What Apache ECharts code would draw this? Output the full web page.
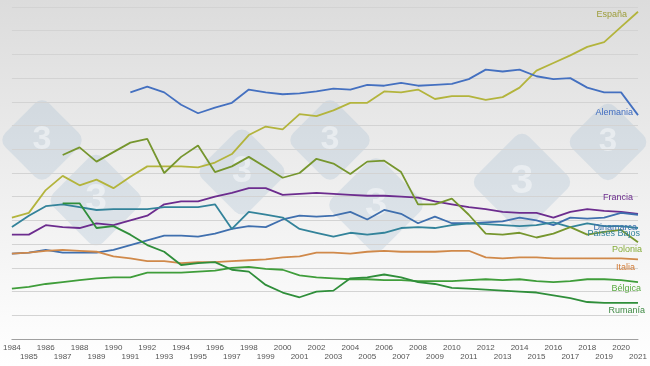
<!DOCTYPE html>
<html>
<head>
<meta charset="utf-8">
<script src="https://cdn.jsdelivr.net/npm/echarts@6/dist/echarts.min.js"></script>
<style>
html,body{margin:0;padding:0;background:#fff;}
#c{width:650px;height:366px;}
</style>
</head>
<body>
<div id="c"></div>
<script>
const years = [];
for (let y = 1984; y <= 2021; y++) years.push(String(y));

const seriesNames = ['España','Alemania','Francia','Dinamarca','Países Bajos','Polonia','Italia','Bélgica','Rumanía'];

const espana = [12.8,13.3,15.7,17.2,16.2,16.8,15.9,17.1,18.2,18.2,
                18.2,18.1,18.6,19.5,21.5,22.4,22.1,23.7,23.5,24.1,
                24.9,24.9,26.1,26.0,26.3,25.3,25.6,25.6,25.2,25.5,
                26.5,28.3,29.1,29.9,30.8,31.3,32.9,34.5];
const alemania = [null,null,null,null,null,null,null,
                26.0,26.6,26.0,24.7,23.8,24.4,24.9,26.3,26.0,25.8,25.9,26.1,26.4,26.3,
                26.8,26.7,27.0,26.7,26.8,26.9,27.4,28.4,28.2,28.4,27.7,27.4,27.5,26.5,
                26.0,26.0,23.6];
const francia = [11.0,11.0,12.0,11.8,11.7,12.2,12.0,12.5,13.0,14.2,
                14.5,14.5,15.0,15.4,15.9,15.9,15.2,15.3,15.4,15.3,
                15.2,15.1,15.1,15.0,14.9,14.5,14.2,13.9,13.7,13.4,
                13.3,13.3,12.8,13.4,13.7,13.5,13.4,13.2];
const dinamarca = [9.0,9.1,9.4,9.1,9.1,9.1,9.4,9.9,10.4,10.9,
                10.9,10.8,11.1,11.6,11.9,11.8,12.6,13.0,12.9,13.0,
                13.4,12.6,13.6,13.2,12.2,12.9,12.2,12.2,12.3,12.4,
                12.8,12.5,12.0,12.8,12.7,12.8,13.3,13.1];
const paisesBajos = [11.8,13.0,14.0,14.2,13.9,13.6,13.7,13.7,13.7,13.9,
                13.9,13.9,14.2,11.6,13.4,13.1,12.8,11.6,11.2,10.8,
                11.2,11.0,11.2,11.7,11.8,11.7,12.0,12.2,12.1,12.0,
                11.9,12.0,12.3,11.8,12.2,11.9,11.9,11.7];
const polonia = [null,null,null,
                19.4,20.2,18.7,19.7,20.7,21.1,17.5,19.2,20.4,17.6,18.2,19.2,18.1,17.0,
                17.5,19.0,18.5,17.4,18.7,18.8,17.6,14.2,14.2,14.8,13.1,11.1,11.0,11.2,
                10.7,11.1,11.8,11.0,11.3,11.5,10.2];
const italia = [9.0,9.1,9.3,9.4,9.3,9.2,8.7,8.5,8.2,8.2,
                8.0,8.1,8.1,8.2,8.3,8.4,8.6,8.7,9.1,9.1,
                9.0,9.2,9.3,9.2,9.2,9.2,9.3,9.3,8.6,8.5,
                8.6,8.6,8.5,8.5,8.5,8.5,8.5,8.4];
const belgica = [5.3,5.5,5.8,6.0,6.2,6.4,6.5,6.5,7.0,7.0,
                7.0,7.1,7.2,7.5,7.6,7.4,7.3,6.7,6.5,6.4,
                6.3,6.3,6.2,6.2,6.1,6.1,6.1,6.2,6.3,6.2,
                6.3,6.1,6.0,6.1,6.3,6.3,6.2,6.0];
const rumania = [null,null,null,
                14.3,14.3,11.7,11.9,11.0,9.9,9.2,7.8,8.0,8.1,7.3,7.1,5.7,4.9,
                4.4,5.0,5.1,6.4,6.5,6.8,6.5,6.0,5.8,5.4,5.3,5.2,5.1,5.0,
                4.9,4.6,4.3,3.9,3.8,3.8,3.8];

const seriesData = [espana, alemania, francia, dinamarca, paisesBajos, polonia, italia, belgica, rumania];
const lineColors = ['#b3b43c','#4470c0','#6c2c8e','#3f6fae','#33839a','#76962e','#d0894a','#3f9d3a','#2f8e3a'];
const labelColors = ['#9d9d3a','#3f6cc0','#6c2c8e','#3f6fae','#33839a','#86ad3a','#d07a35','#5aaa42','#3f8a44'];
// label anchor (right edge x, middle y) in pixels
const labelPos = [[627,15],[633,113],[633,198],[637,228],[640,234],[642,250],[635,268],[641,289],[645,311]];

const chart = echarts.init(document.getElementById('c'), null, {renderer:'canvas'});

const graphics = [];
// faint watermark logos
const logos = [[42,140,62],[96,200,70],[242,172,66],[330,140,62],[376,205,72],[522,182,74],[608,142,60]];
logos.forEach(([cx,cy,s])=>{
  graphics.push({type:'rect', x:cx, y:cy, rotation:Math.PI/4, originX:0, originY:0,
    shape:{x:-s/2,y:-s/2,width:s,height:s,r:10}, silent:true, z:-1,
    style:{fill:'rgba(160,185,210,0.28)'}});
  graphics.push({type:'text', x:cx, y:cy, silent:true, z:-1,
    style:{text:'3', fill:'rgba(255,255,255,0.45)', font:'bold '+Math.round(s*0.55)+'px "Liberation Sans", Arial', textAlign:'center', textVerticalAlign:'middle'}});
});
seriesNames.forEach((n,i)=>{
  graphics.push({type:'text', x:labelPos[i][0], y:labelPos[i][1], z:10,
    style:{text:n, fill:labelColors[i], font:'9px "Liberation Sans", Arial', textAlign:'right', textVerticalAlign:'middle'}});
});

chart.setOption({
  animation:false,
  backgroundColor:{type:'linear',x:0,y:0,x2:0,y2:1,colorStops:[
    {offset:0,color:'#dcdcdc'},{offset:0.55,color:'#f0f0f0'},{offset:0.9,color:'#fcfcfc'},{offset:1,color:'#ffffff'}]},
  grid:{left:6,right:12,top:7,bottom:27,containLabel:false},
  xAxis:{type:'category',data:years,boundaryGap:false,
    axisLine:{show:true,lineStyle:{color:'#a0a0a0',width:1}},
    axisTick:{show:false},
    splitLine:{show:false},
    axisLabel:{interval:0,fontSize:8,color:'#555',margin:4,lineHeight:9,
      fontFamily:'"Liberation Sans", Arial',
      formatter:(v,i)=> (i%2===0 ? v : '\n'+v)}},
  yAxis:{type:'value',min:0,max:35,interval:2.5,
    axisLine:{show:false},axisTick:{show:false},axisLabel:{show:false},
    splitLine:{show:true,lineStyle:{color:'#d3d3d3',width:1}}},
  graphic:graphics,
  series: seriesNames.map((n,i)=>({
    name:n,type:'line',data:seriesData[i],showSymbol:false,symbol:'none',
    connectNulls:false,
    lineStyle:{color:lineColors[i],width:1.8},
    itemStyle:{color:lineColors[i]},
    z:3
  }))
});
</script>
</body>
</html>
